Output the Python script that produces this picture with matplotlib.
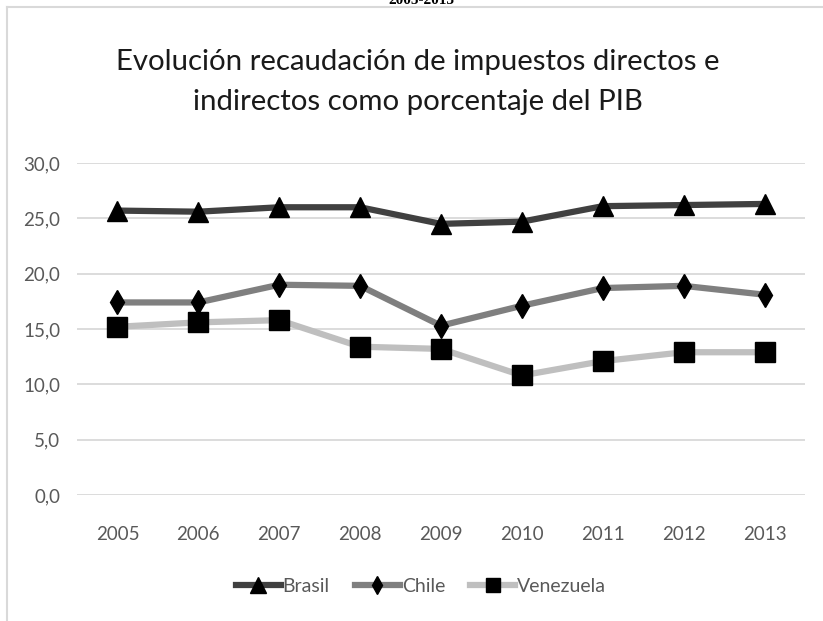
import matplotlib
matplotlib.use("Agg")

import matplotlib.pyplot as plt
from matplotlib.lines import Line2D

# Data
years = ["2005", "2006", "2007", "2008", "2009", "2010", "2011", "2012", "2013"]
brasil = [25.7, 25.6, 26.0, 26.0, 24.5, 24.7, 26.1, 26.2, 26.3]
chile = [17.4, 17.4, 19.0, 18.9, 15.3, 17.1, 18.7, 18.9, 18.1]
venezuela = [15.2, 15.6, 15.8, 13.4, 13.2, 10.8, 12.1, 12.9, 12.9]
yticks = [0, 5, 10, 15, 20, 25, 30]
ytick_labels = ["0,0", "5,0", "10,0", "15,0", "20,0", "25,0", "30,0"]

title = "Evolución recaudación de impuestos directos e\nindirectos como porcentaje del PIB"

plt.rcParams["font.family"] = ["Lato", "DejaVu Sans"]

W, H = 823, 621
fig = plt.figure(figsize=(W / 100, H / 100), dpi=100)

# Plot area in pixel terms
x0, x1 = 77, 805
y_top, y_bot = 163, 495
ax = fig.add_axes([x0 / W, 1 - y_bot / H, (x1 - x0) / W, (y_bot - y_top) / H])

x = list(range(len(years)))
series = [
    ("Brasil", brasil, "#404040", "^", 15),
    ("Chile", chile, "#7f7f7f", "d", 12),
    ("Venezuela", venezuela, "#bfbfbf", "s", 14),
]
for name, vals, color, mk, ms in series:
    ax.plot(x, vals, color=color, lw=4.5, marker=mk, markersize=ms,
            markerfacecolor="black", markeredgecolor="black", label=name,
            solid_capstyle="round", zorder=3)

ax.set_xlim(-0.5, len(years) - 0.5)
ax.set_ylim(0, 30)
ax.set_yticks(yticks)
ax.set_yticklabels(ytick_labels)
ax.set_xticks(x)
ax.set_xticklabels(years)
ax.tick_params(length=0, labelsize=13.5, labelcolor="#595959")
ax.tick_params(axis="y", pad=12)
ax.tick_params(axis="x", pad=22)
ax.grid(axis="y", color="#d9d9d9", lw=1.3)
ax.set_axisbelow(True)
for s in ax.spines.values():
    s.set_visible(False)

# Title
fig.text(418 / W, 1 - 82 / H, title, ha="center", va="center",
         fontsize=21.2, color="#1a1a1a", linespacing=1.7)

# Clipped subtitle at the very top
fig.text(421 / W, 1 - 4 / H, "2005-2013", ha="center", va="baseline",
         fontsize=11, fontweight="bold", family="Liberation Serif")

# Legend
handles = [Line2D([0], [0], color=c, lw=4.5, marker=m, markersize=ms * 0.75,
                  markerfacecolor="black", markeredgecolor="black")
           for _, _, c, m, ms in series]
fig.legend(handles, [s[0] for s in series], loc="center",
           bbox_to_anchor=(421 / W, 1 - 586 / H), ncol=3, frameon=False,
           fontsize=14, handlelength=2.3, handletextpad=0.1,
           columnspacing=1.3, labelcolor="#595959")

# Chart-area border (left and top visible)
fig.add_artist(Line2D([7 / W, 7 / W], [0, 1 - 7 / H], color="#d9d9d9", lw=1.5))
fig.add_artist(Line2D([7 / W, 1], [1 - 7 / H, 1 - 7 / H], color="#d9d9d9", lw=1.5))

fig.savefig("out.png", dpi=100)
